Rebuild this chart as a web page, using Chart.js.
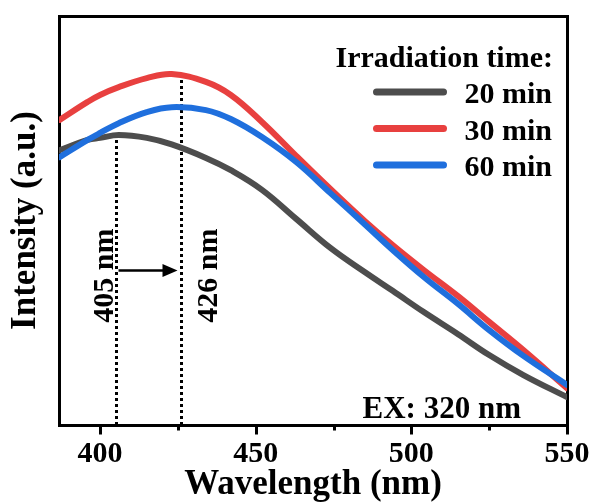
<!DOCTYPE html>
<html>
<head>
<meta charset="utf-8">
<script src="https://cdn.jsdelivr.net/npm/chart.js@4"></script>
<style>
  html, body { margin: 0; padding: 0; background: #fff; }
  #wrap { width: 594px; height: 502px; }
</style>
</head>
<body>
<div id="wrap"><canvas id="c" width="594" height="502"></canvas></div>
<script>
// Photoluminescence spectra, intensity in arbitrary units
const wavelengths = [387, 396, 400, 406, 415, 423, 434, 442, 452, 463, 474, 485, 494, 504, 515, 525, 536, 550];
const int20 = [67.2, 69.7, 70.2, 70.9, 70.2, 68.6, 65.3, 62.3, 57.5, 50.4, 43.3, 37.4, 32.8, 27.6, 22.2, 17.1, 12.2, 6.8];
const int30 = [74.6, 79.0, 80.7, 82.6, 84.8, 85.8, 83.9, 80.7, 74.1, 65.8, 57.7, 49.9, 44.0, 37.9, 31.5, 25.2, 18.3, 9.0];
const int60 = [65.5, 69.7, 71.4, 73.8, 76.5, 77.7, 77.0, 74.8, 70.4, 64.3, 56.7, 49.1, 42.8, 36.2, 29.6, 23.2, 16.9, 9.8];

const seriesLabels = ['20 min', '30 min', '60 min'];
const seriesColors = ['#4d4d4d', '#e8403f', '#1f6fdd'];

const xMajorTicks = [400, 450, 500, 550];
const xMinorTicks = [425, 475, 525];

// emission maxima marked with dotted drop lines
const peakWavelengths = [405, 426];
const peakLabels = ['405 nm', '426 nm'];
const peakSeries = [int20, int30];

const legendTitle = 'Irradiation time:';
const excitationNote = 'EX: 320 nm';

const FONT = "'Liberation Serif', 'Times New Roman', serif";

function interp(xs, ys, v) {
  for (let i = 0; i < xs.length - 1; i++) {
    if (v >= xs[i] && v <= xs[i + 1]) {
      const t = (v - xs[i]) / (xs[i + 1] - xs[i]);
      return ys[i] + t * (ys[i + 1] - ys[i]);
    }
  }
  return ys[ys.length - 1];
}

const toPoints = ys => wavelengths.map((w, i) => ({ x: w, y: ys[i] }));

const annotations = {
  id: 'annotations',
  beforeDatasetsDraw(chart) {
    const { ctx, scales: { x, y } } = chart;
    ctx.save();
    ctx.strokeStyle = '#000';
    ctx.lineWidth = 3;
    ctx.setLineDash([3, 3]);
    peakWavelengths.forEach((w, i) => {
      const px = Math.round(x.getPixelForValue(w)) + 0.5;
      const top = y.getPixelForValue(interp(wavelengths, peakSeries[i], w));
      ctx.beginPath();
      ctx.moveTo(px, chart.chartArea.bottom);
      ctx.lineTo(px, top);
      ctx.stroke();
    });
    ctx.restore();
  },
  afterDraw(chart) {
    const { ctx, chartArea, scales: { x, y } } = chart;
    ctx.save();
    ctx.setLineDash([]);
    ctx.strokeStyle = '#000';
    ctx.fillStyle = '#000';

    // outward tick marks on the wavelength axis
    ctx.lineWidth = 3;
    const base = chartArea.bottom + 1.5;
    xMajorTicks.forEach(v => {
      const px = Math.round(x.getPixelForValue(v)) + 0.5;
      ctx.beginPath(); ctx.moveTo(px, base); ctx.lineTo(px, base + 8); ctx.stroke();
    });
    xMinorTicks.forEach(v => {
      const px = Math.round(x.getPixelForValue(v)) + 0.5;
      ctx.beginPath(); ctx.moveTo(px, base); ctx.lineTo(px, base + 4); ctx.stroke();
    });

    // red-shift arrow between the two maxima
    const p1 = Math.round(x.getPixelForValue(peakWavelengths[0])) + 0.5;
    const p2 = Math.round(x.getPixelForValue(peakWavelengths[1])) + 0.5;
    const ay = Math.round(y.getPixelForValue(38)) + 0.5;
    ctx.lineWidth = 2.5;
    ctx.beginPath(); ctx.moveTo(p1 + 2, ay); ctx.lineTo(p2 - 16, ay); ctx.stroke();
    ctx.beginPath();
    ctx.moveTo(p2 - 4, ay);
    ctx.lineTo(p2 - 19, ay - 6.5);
    ctx.lineTo(p2 - 19, ay + 6.5);
    ctx.closePath();
    ctx.fill();

    // vertical peak labels
    ctx.font = `bold 30px ${FONT}`;
    ctx.textAlign = 'center';
    ctx.textBaseline = 'alphabetic';
    const ly = y.getPixelForValue(36.5);
    [[p1 - 4, peakLabels[0]], [p2 + 35, peakLabels[1]]].forEach(([bx, txt]) => {
      ctx.save();
      ctx.translate(bx, ly);
      ctx.rotate(-Math.PI / 2);
      ctx.fillText(txt, 0, 0);
      ctx.restore();
    });

    // legend
    const right = chartArea.right - 15;
    ctx.textAlign = 'right';
    ctx.font = `bold 30px ${FONT}`;
    ctx.fillText(legendTitle, right + 1, 67);
    chart.data.datasets.forEach((ds, i) => {
      const ly2 = 92 + 36.5 * i;
      ctx.strokeStyle = ds.borderColor;
      ctx.lineWidth = 7;
      ctx.lineCap = 'round';
      ctx.beginPath(); ctx.moveTo(376.5, ly2); ctx.lineTo(443.5, ly2); ctx.stroke();
      ctx.fillStyle = '#000';
      ctx.fillText(ds.label, right, ly2 + 11);
    });

    // excitation wavelength note
    ctx.font = `bold 31px ${FONT}`;
    ctx.fillText(excitationNote, 521, chartArea.bottom - 7);
    ctx.restore();
  }
};

const frameAxis = (position) => ({
  type: 'linear',
  position,
  display: true,
  ticks: { display: false },
  grid: { display: false, drawTicks: false, lineWidth: 3 },
  border: { display: true, width: 3, color: '#000' },
  afterFit(scale) {
    if (position === 'top') scale.height = 0; else scale.width = 0;
    scale.paddingLeft = scale.paddingRight = scale.paddingTop = scale.paddingBottom = 0;
  }
});

new Chart(document.getElementById('c'), {
  type: 'line',
  data: {
    datasets: [
      { label: seriesLabels[0], data: toPoints(int20), borderColor: seriesColors[0], order: 3 },
      { label: seriesLabels[1], data: toPoints(int30), borderColor: seriesColors[1], order: 2 },
      { label: seriesLabels[2], data: toPoints(int60), borderColor: seriesColors[2], order: 1 }
    ].map(d => Object.assign(d, {
      borderWidth: 6, pointRadius: 0, tension: 0.4, fill: false, borderCapStyle: 'round'
    }))
  },
  options: {
    responsive: false,
    animation: false,
    devicePixelRatio: 1,
    layout: { autoPadding: false, padding: { top: 16, right: 27, left: 0, bottom: 0 } },
    plugins: { legend: { display: false }, tooltip: { enabled: false } },
    scales: {
      x: {
        type: 'linear',
        position: 'bottom',
        min: 386.8,
        max: 550,
        afterBuildTicks(scale) { scale.ticks = xMajorTicks.map(v => ({ value: v })); },
        ticks: {
          font: { family: FONT, size: 30, weight: 'bold' },
          color: '#000',
          padding: 11,
          maxRotation: 0,
          autoSkip: false
        },
        grid: { display: false, drawTicks: false, lineWidth: 3 },
        border: { display: true, width: 3, color: '#000' },
        title: {
          display: true,
          text: 'Wavelength (nm)',
          color: '#000',
          font: { family: FONT, size: 35, weight: 'bold', lineHeight: 1 },
          padding: { top: 0, bottom: 0 }
        },
        afterFit(scale) {
          scale.height = 77;
          scale.paddingLeft = scale.paddingRight = 0;
        }
      },
      y: {
        type: 'linear',
        position: 'left',
        min: 0,
        max: 100,
        ticks: { display: false },
        grid: { display: false, drawTicks: false, lineWidth: 3 },
        border: { display: true, width: 3, color: '#000' },
        title: {
          display: true,
          text: 'Intensity (a.u.)',
          color: '#000',
          font: { family: FONT, size: 35, weight: 'bold', lineHeight: 1 },
          padding: { top: 8.5, bottom: 0 }
        },
        afterFit(scale) {
          scale.width = 59;
          scale.paddingTop = scale.paddingBottom = 0;
        }
      },
      x2: frameAxis('top'),
      y2: frameAxis('right')
    }
  },
  plugins: [annotations]
});
</script>
</body>
</html>
